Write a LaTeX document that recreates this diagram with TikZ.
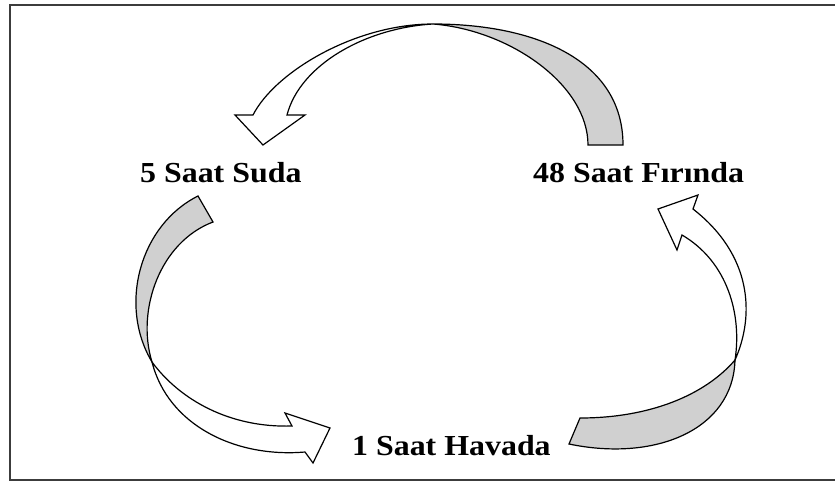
\documentclass[tikz,border=0pt]{standalone}
\usepackage{fontspec}
\setmainfont{Liberation Serif}[FakeStretch=1.1]
\definecolor{bandgray}{RGB}{208,208,208}
\definecolor{framegray}{RGB}{60,60,60}
\begin{document}
\begin{tikzpicture}[x=1pt,y=-1pt,
  band/.style={draw=black,line width=1.2pt,fill=bandgray},
  head/.style={draw=black,line width=1.2pt,fill=white},
  lbl/.style={anchor=base west,inner sep=0pt,font=\fontsize{29}{32}\selectfont\bfseries}]
\useasboundingbox (0,0) rectangle (835,482);
\clip (0,0) rectangle (835,482);
\draw[framegray,line width=2pt] (10,4.5) rectangle (860,480);

% labels
\node[lbl] (suda) at (140,182) {5 Saat Suda};
\node[lbl] (firin) at (533,182) {48 Saat Fırında};
\node[lbl] (hava) at (352,455) {1 Saat Havada};

% top arrow: Firinda -> Suda
\coordinate (ta) at (433,24);
\path[band] (588,145) -- (623,145)
  .. controls (623,60) and (535,24) .. (ta)
  .. controls (510,30) and (588,85) .. (588,145) -- cycle;
\path[head] (ta) .. controls (355,24) and (275,72) .. (253,115)
  -- (235,115) -- (263,145) -- (305,115) -- (287,115)
  .. controls (300,65) and (365,28) .. (ta) -- cycle;

% left arrow: Suda -> Havada
\coordinate (lx) at (152,362);
\path[band] (213,222) -- (198,196)
  .. controls (140,225) and (118,305) .. (lx)
  .. controls (136,310) and (160,242) .. (213,222) -- cycle;
\path[head] (lx) .. controls (180,400) and (230,428) .. (292,426)
  -- (285,413) -- (330,428) -- (313,463) -- (305,452)
  .. controls (235,458) and (168,425) .. (lx) -- cycle;

% right arrow: Havada -> Firinda
\coordinate (rx) at (735,360);
\path[band] (569,444) -- (580,418)
  .. controls (650,418) and (705,395) .. (rx)
  .. controls (733,430) and (655,462) .. (569,444) -- cycle;
\path[head] (rx) .. controls (755,315) and (752,255) .. (693,209)
  -- (698,195) -- (658,209) -- (677,250) -- (682,235)
  .. controls (728,262) and (742,315) .. (rx) -- cycle;
\end{tikzpicture}
\end{document}
